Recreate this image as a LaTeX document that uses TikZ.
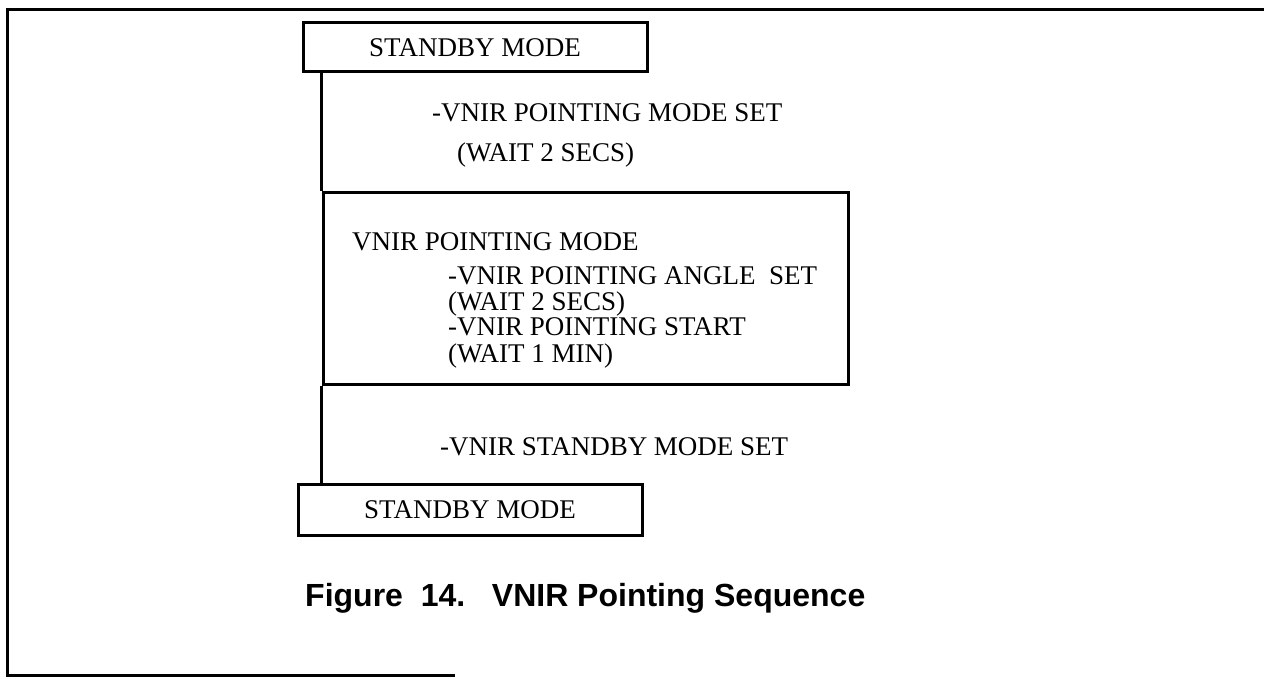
\documentclass[tikz,border=0pt]{standalone}
\usepackage{fontspec}
\setmainfont{Liberation Serif}
\newfontfamily\captionfont{Liberation Sans}
\tikzset{
  modebox/.style={draw, line width=3pt, inner sep=0pt, font=\fontsize{27}{30}\selectfont},
  steplabel/.style={anchor=base west, inner sep=0pt, font=\fontsize{27}{30}\selectfont},
}
\begin{document}
\begin{tikzpicture}[x=1pt, y=1pt]
    \useasboundingbox (0,0) rectangle (1264,678);
    % Outer frame (open at the right)
    \draw[line width=3pt] (455,3) -- (7,3) -- (7,668) -- (1264,668);

    % Standby mode boxes
    \node[modebox, minimum width=344pt, minimum height=49pt] (standbytop) at (475,630.5) {STANDBY MODE};
    \node[modebox, minimum width=344pt, minimum height=50pt] (standbybot) at (470,168) {STANDBY MODE};

    % Pointing mode box and its steps
    \node[modebox, minimum width=525pt, minimum height=192pt] (pointbox) at (585.5,389) {};
    \node[steplabel] (pointmode) at (352,427.5) {VNIR POINTING MODE};
    \node[steplabel] (angleset) at (448,393.5) {-VNIR POINTING ANGLE\ \ SET};
    \node[steplabel] (waitsecs) at (448,367.5) {(WAIT 2 SECS)};
    \node[steplabel] (pointstart) at (448,342.5) {-VNIR POINTING START};
    \node[steplabel] (waitmin) at (448,315.5) {(WAIT 1 MIN)};

    % Commands between the modes
    \node[steplabel] (modeset) at (432,556.5) {-VNIR POINTING MODE SET};
    \node[steplabel] (modewait) at (457,516.5) {(WAIT 2 SECS)};
    \node[steplabel] (standbyset) at (440,222.5) {-VNIR STANDBY MODE SET};

    % Sequence line
    \draw[line width=3pt] (pointbox.north west |- standbytop.south) -- (pointbox.north west);
    \draw[line width=3pt] (pointbox.south west) -- (pointbox.south west |- standbybot.north);

    % Caption
    \node[anchor=base west, inner sep=0pt, font=\captionfont\bfseries\fontsize{32}{36}\selectfont] (caption) at (305,71.5)
        {Figure\ \ 14.\ \ \ VNIR Pointing Sequence};
\end{tikzpicture}
\end{document}
